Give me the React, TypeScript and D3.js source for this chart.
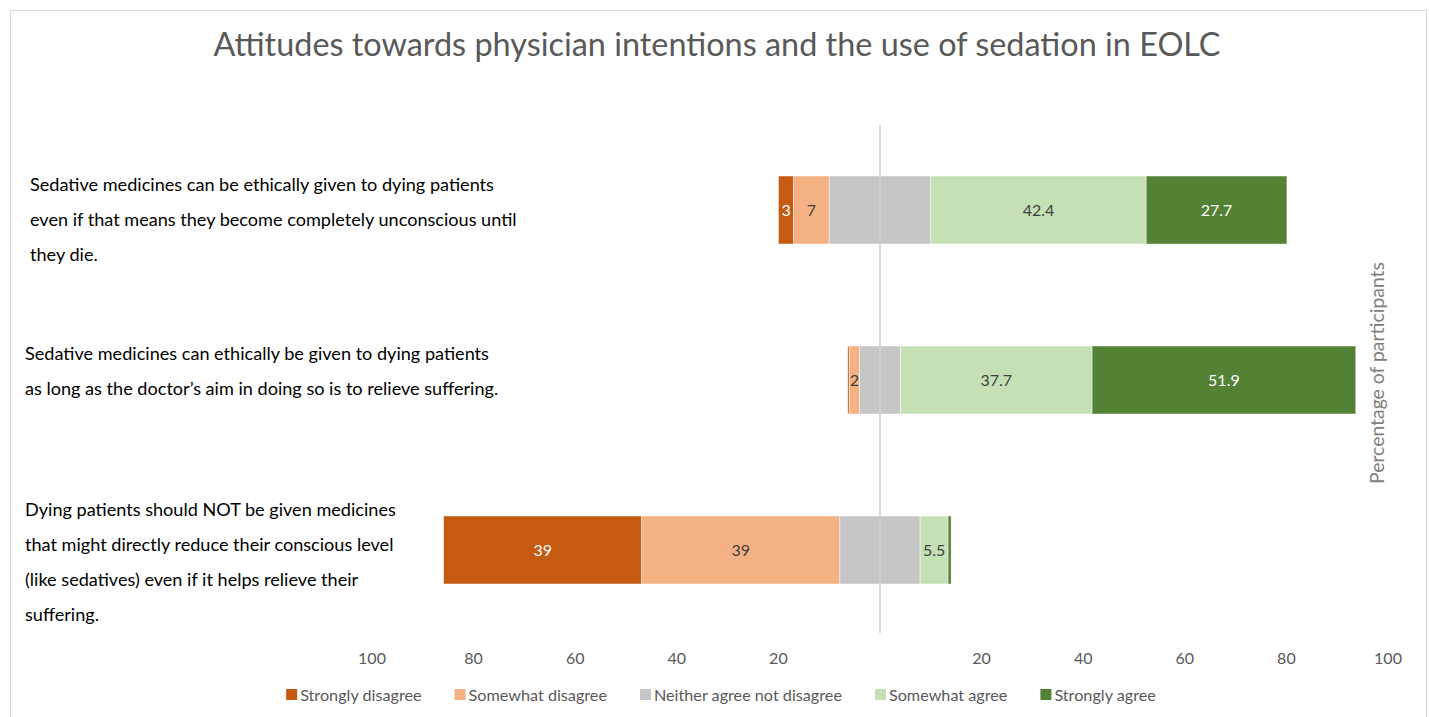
import React, { useEffect, useRef } from "react";
import * as d3 from "d3";

const categoryLines: string[][] = [
  [
    "Sedative medicines can be ethically given to dying patients",
    "even if that means they become completely unconscious until",
    "they die.",
  ],
  [
    "Sedative medicines can ethically be given to dying patients",
    "as long as the doctor\u2019s aim in doing so is to relieve suffering.",
  ],
  [
    "Dying patients should NOT be given medicines",
    "that might directly reduce their conscious level",
    "(like sedatives) even if it helps relieve their",
    "suffering.",
  ],
];
const categories = ["Q1", "Q2", "Q3"];

const seriesNames = [
  "Strongly disagree",
  "Somewhat disagree",
  "Neither agree not disagree",
  "Somewhat agree",
  "Strongly agree",
];
const stronglyDisagree = [3, 0.3, 39];
const somewhatDisagree = [7, 2, 39];
const neither = [20, 8.1, 15.8];
const somewhatAgree = [42.4, 37.7, 5.5];
const stronglyAgree = [27.7, 51.9, 0.6];
const seriesColors = ["#C55A11", "#F4B183", "#C6C6C6", "#C5E0B4", "#548235"];
const labelColors = ["#ffffff", "#404040", "#404040", "#404040", "#ffffff"];
const tickValues = [-100, -80, -60, -40, -20, 20, 40, 60, 80, 100];

const title = "Attitudes towards physician intentions and the use of sedation in EOLC";
const axisTitle = "Percentage of participants";

// layout of the free-floating text boxes on the left
const labelBoxX = [30, 25, 25];
const labelBoxTop = [185, 354, 510];

const FONT = "Lato, 'Open Sans', sans-serif";

export default function App() {
  const ref = useRef<SVGSVGElement>(null);

  useEffect(() => {
    const svg = d3.select(ref.current);
    svg.selectAll("*").remove();

    svg
      .append("rect")
      .attr("x", 10.5)
      .attr("y", 10.5)
      .attr("width", 1416)
      .attr("height", 730)
      .attr("fill", "#fff")
      .attr("stroke", "#d9d9d9");

    const x = d3.scaleLinear().domain([-100, 100]).range([372, 1388]);
    const y = d3.scaleBand<string>().domain(categories).range([125, 635]).padding(0.6).paddingOuter(0.3);

    svg
      .append("text")
      .attr("x", 717)
      .attr("y", 56)
      .attr("text-anchor", "middle")
      .attr("font-family", FONT)
      .attr("font-size", 32.4)
      .attr("fill", "#595959")
      .text(title);

    const allSeries = [stronglyDisagree, somewhatDisagree, neither, somewhatAgree, stronglyAgree];

    const g = svg.append("g");
    categories.forEach((c, i) => {
      const vals = allSeries.map((s) => s[i]);
      let start = -(vals[0] + vals[1] + vals[2] / 2);
      vals.forEach((v, k) => {
        const x0 = x(start);
        const x1 = x(start + v);
        g.append("rect")
          .attr("x", x0)
          .attr("y", y(c)!)
          .attr("width", x1 - x0)
          .attr("height", y.bandwidth())
          .attr("fill", seriesColors[k])
          .attr("stroke", "#ffffff")
          .attr("stroke-opacity", 0.6)
          .attr("stroke-width", 0.75);
        if (k !== 2 && v >= 1.5) {
          g.append("text")
            .attr("x", (x0 + x1) / 2)
            .attr("y", y(c)! + y.bandwidth() / 2)
            .attr("dy", "0.35em")
            .attr("text-anchor", "middle")
            .attr("font-family", FONT)
            .attr("font-size", 16)
            .attr("fill", labelColors[k])
            .text(String(v));
        }
        start += v;
      });
    });

    // center line
    svg
      .append("line")
      .attr("x1", x(0))
      .attr("x2", x(0))
      .attr("y1", 125)
      .attr("y2", 633)
      .attr("stroke", "#d0d0d0")
      .attr("stroke-width", 1.5);

    // ticks
    svg
      .append("g")
      .selectAll("text")
      .data(tickValues)
      .join("text")
      .attr("x", (d) => x(d))
      .attr("y", 664)
      .attr("text-anchor", "middle")
      .attr("font-family", FONT)
      .attr("font-size", 16)
      .attr("fill", "#595959")
      .text((d) => String(Math.abs(d)));

    // category labels
    categories.forEach((c, i) => {
      const lines = categoryLines[i];
      const lh = 35;
      lines.forEach((ln, j) => {
        svg
          .append("text")
          .attr("x", labelBoxX[i])
          .attr("y", labelBoxTop[i] + j * lh)
          .attr("dy", "0.35em")
          .attr("font-family", FONT)
          .attr("font-size", 18.1)
          .attr("fill", "#000")
          .text(ln);
      });
    });

    // axis title
    svg
      .append("text")
      .attr("transform", `translate(1384,373) rotate(-90)`)
      .attr("text-anchor", "middle")
      .attr("font-family", FONT)
      .attr("font-size", 19.4)
      .attr("fill", "#808080")
      .text(axisTitle);

    // legend
    const leg = svg.append("g");
    let lx = 0;
    seriesNames.forEach((n, k) => {
      const it = leg.append("g").attr("transform", `translate(${lx},0)`);
      it.append("rect").attr("x", 0).attr("y", -12).attr("width", 11).attr("height", 11).attr("fill", seriesColors[k]);
      const t = it
        .append("text")
        .attr("x", 14)
        .attr("y", 0)
        .attr("font-family", FONT)
        .attr("font-size", 16.2)
        .attr("fill", "#595959")
        .text(n);
      const w = (t.node() as SVGTextElement).getComputedTextLength();
      lx += 14 + w + 33;
    });
    const totalW = lx - 33;
    leg.attr("transform", `translate(${721 - totalW / 2},701)`);
  }, []);

  return (
    <svg
      ref={ref}
      width={1429}
      height={717}
      style={{ position: "absolute", left: 0, top: 0, background: "#fff" }}
    />
  );
}
